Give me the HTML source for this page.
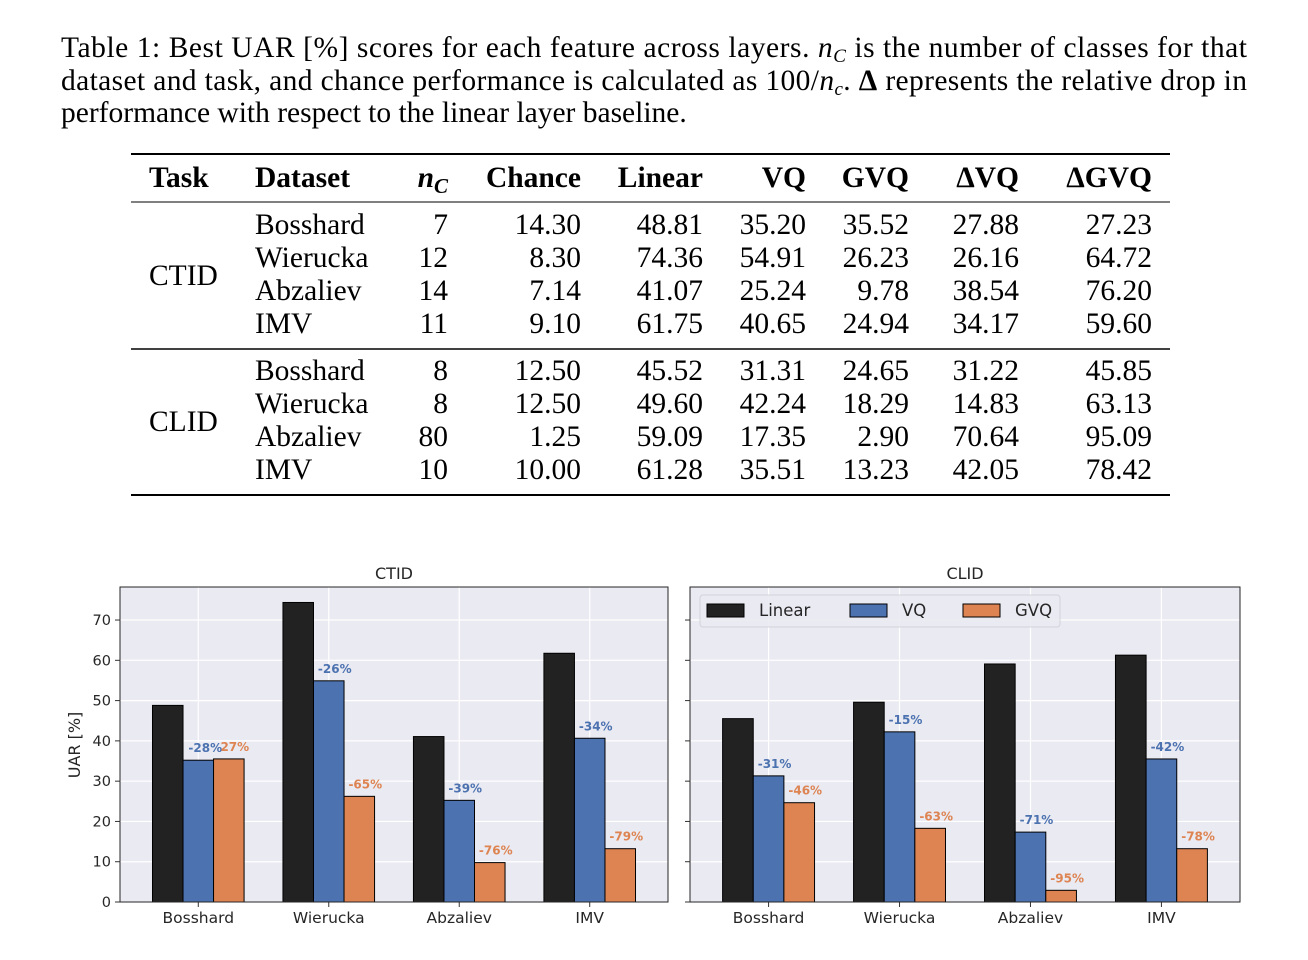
<!DOCTYPE html>
<html><head><meta charset="utf-8"><style>body{margin:0;background:#fff}svg{display:block}</style></head>
<body>
<svg id="s" width="1308" height="960" xmlns="http://www.w3.org/2000/svg">
<g font-family="Liberation Serif, serif" font-size="29.5" fill="#000">
<text x="61" y="57" textLength="1186" lengthAdjust="spacing">Table 1: Best UAR [%] scores for each feature across layers. <tspan font-style="italic">n</tspan><tspan font-style="italic" font-size="19" dy="5">C</tspan><tspan dy="-5"> is the number of classes for that</tspan></text>
<text x="61" y="90" textLength="1186" lengthAdjust="spacing">dataset and task, and chance performance is calculated as 100/<tspan font-style="italic">n</tspan><tspan font-style="italic" font-size="19" dy="5">c</tspan><tspan dy="-5">. </tspan><tspan font-weight="bold">Δ</tspan> represents the relative drop in</text>
<text x="61" y="122">performance with respect to the linear layer baseline.</text>
</g>
<g id="table" font-family="Liberation Serif, serif" font-size="29.5"></g>
<g id="chart" font-family="DejaVu Sans, sans-serif"></g>
</svg>
<script>
const NS='http://www.w3.org/2000/svg';
function mk(p,tag,at,txt){const e=document.createElementNS(NS,tag);for(const k in at)e.setAttribute(k,at[k]);if(txt!==undefined)e.textContent=txt;p.appendChild(e);return e;}
const tb=document.getElementById('table');
const headers=['Task','Dataset','nC','Chance','Linear','VQ','GVQ','ΔVQ','ΔGVQ'];
const rows=[
['Bosshard','7','14.30','48.81','35.20','35.52','27.88','27.23'],
['Wierucka','12','8.30','74.36','54.91','26.23','26.16','64.72'],
['Abzaliev','14','7.14','41.07','25.24','9.78','38.54','76.20'],
['IMV','11','9.10','61.75','40.65','24.94','34.17','59.60'],
['Bosshard','8','12.50','45.52','31.31','24.65','31.22','45.85'],
['Wierucka','8','12.50','49.60','42.24','18.29','14.83','63.13'],
['Abzaliev','80','1.25','59.09','17.35','2.90','70.64','95.09'],
['IMV','10','10.00','61.28','35.51','13.23','42.05','78.42']];
const rightX=[448,581,703,806,909,1019,1152];
[[154,2],[202,1],[349,1.5],[495,2]].forEach(([y,w])=>{const l=mk(tb,'line',{x1:131,x2:1170,y1:y,y2:y,stroke:'#000','stroke-width':w});

});
let h=mk(tb,'text',{x:149,y:187,'font-weight':'bold'},'Task');
h=mk(tb,'text',{x:255,y:187,'font-weight':'bold'},'Dataset');
h=mk(tb,'text',{x:448,y:187,'text-anchor':'end','font-style':'italic','font-weight':'bold'});


mk(h,'tspan',{},'n');mk(h,'tspan',{'font-size':21,dy:6},'C');
headers.slice(3).forEach((t,i)=>{const e=mk(tb,'text',{x:rightX[i+1],y:187,'text-anchor':'end','font-weight':'bold'},t);

});
const rowY=[234,267,300,333,380,413,446,479];
rows.forEach((r,i)=>{const y=rowY[i];
 const d=mk(tb,'text',{x:255,y:y},r[0]);
 r.slice(1).forEach((v,j)=>{const c=mk(tb,'text',{x:rightX[j],y:y,'text-anchor':'end'},v);
 
 });});
h=mk(tb,'text',{x:149,y:285},'CTID');
h=mk(tb,'text',{x:149,y:431},'CLID');

const categories=['Bosshard','Wierucka','Abzaliev','IMV'];
const ctidLinear=[48.81,74.36,41.07,61.75];
const ctidVQ=[35.20,54.91,25.24,40.65];
const ctidGVQ=[35.52,26.23,9.78,13.23];
const ctidVQLabels=['-28%','-26%','-39%','-34%'];
const ctidGVQLabels=['27%','-65%','-76%','-79%'];
const clidLinear=[45.52,49.60,59.09,61.28];
const clidVQ=[31.31,42.24,17.35,35.51];
const clidGVQ=[24.65,18.29,2.90,13.23];
const clidVQLabels=['-31%','-15%','-71%','-42%'];
const clidGVQLabels=['-46%','-63%','-95%','-78%'];
const yTicks=[0,10,20,30,40,50,60,70];
const seriesNames=['Linear','VQ','GVQ'];
const colors=['#222222','#4c72b0','#dd8452'];
const yMax=78.2;

const ch=document.getElementById('chart');
function panel(x0,x1,title,L,V,G,vl,gl,showY,legend){
 const top=587,bot=902;
 const y=v=>bot-(v/yMax)*(bot-top);
 const step=(x1-x0)/4.2;
 const cx=i=>x0+step*(i+0.6);
 const g=mk(ch,'g',{});
 
 
 mk(g,'rect',{x:x0,y:top,width:x1-x0,height:bot-top,fill:'#eaeaf2'});
 yTicks.forEach(t=>{mk(g,'line',{x1:x0,x2:x1,y1:y(t),y2:y(t),stroke:'#fff','stroke-width':1.2});
  mk(g,'line',{x1:x0-5,x2:x0,y1:y(t),y2:y(t),stroke:'#333'});
  if(showY){const tl=mk(g,'text',{x:x0-9,y:y(t)+5,'text-anchor':'end','font-size':14.5,fill:'#262626'},String(t));
  
  }});
 categories.forEach((c,i)=>{mk(g,'line',{x1:cx(i),x2:cx(i),y1:top,y2:bot,stroke:'#fff','stroke-width':1.2});
  mk(g,'line',{x1:cx(i),x2:cx(i),y1:bot,y2:bot+5,stroke:'#333'});
  const tl=mk(g,'text',{x:cx(i),y:bot+21,'text-anchor':'middle','font-size':15.5,fill:'#262626'},c);
  
  });
 const bw=step*0.234;
 [L,V,G].forEach((arr,s)=>arr.forEach((v,i)=>{const bx=cx(i)+(s-1)*bw-bw/2;
  const b=mk(g,'rect',{x:bx,y:y(v),width:bw,height:bot-y(v),fill:colors[s],stroke:'#000','stroke-width':1});
  
  
  if(s>0){const lab=(s==1?vl:gl)[i];
   const t=mk(g,'text',{x:bx+bw/2+(s==1&&i==0&&title=='CTID'?7:6),y:y(v)-8,'text-anchor':'middle','font-size':12,'font-weight':'bold',fill:colors[s]},lab);
   
   }}));
 mk(g,'rect',{x:x0,y:top,width:x1-x0,height:bot-top,fill:'none',stroke:'#262626','stroke-width':1});
 const tt=mk(g,'text',{x:(x0+x1)/2,y:579,'text-anchor':'middle','font-size':16,fill:'#262626'},title);
 
 
 if(showY){const yl=mk(g,'text',{x:0,y:0,transform:'translate(80,745) rotate(-90)','text-anchor':'middle','font-size':16,fill:'#262626'},'UAR [%]');
  
  }
 if(legend){const lg=mk(g,'g',{});
  
  
  mk(lg,'rect',{x:700,y:595,width:360,height:32,rx:3,fill:'#eaeaf2',stroke:'#d0d0d8',opacity:0.9});
  const lx=[707,850,963];
  seriesNames.forEach((n,s)=>{const e=mk(lg,'g',{});
   
   
   mk(e,'rect',{x:lx[s],y:604,width:37,height:13,fill:colors[s],stroke:'#000','stroke-width':1});
   mk(e,'text',{x:lx[s]+52,y:616,'font-size':16.5,fill:'#262626'},n);});}
}
panel(120,668,'CTID',ctidLinear,ctidVQ,ctidGVQ,ctidVQLabels,ctidGVQLabels,true,false);
panel(690,1240,'CLID',clidLinear,clidVQ,clidGVQ,clidVQLabels,clidGVQLabels,false,true);
</script>
</body></html>
